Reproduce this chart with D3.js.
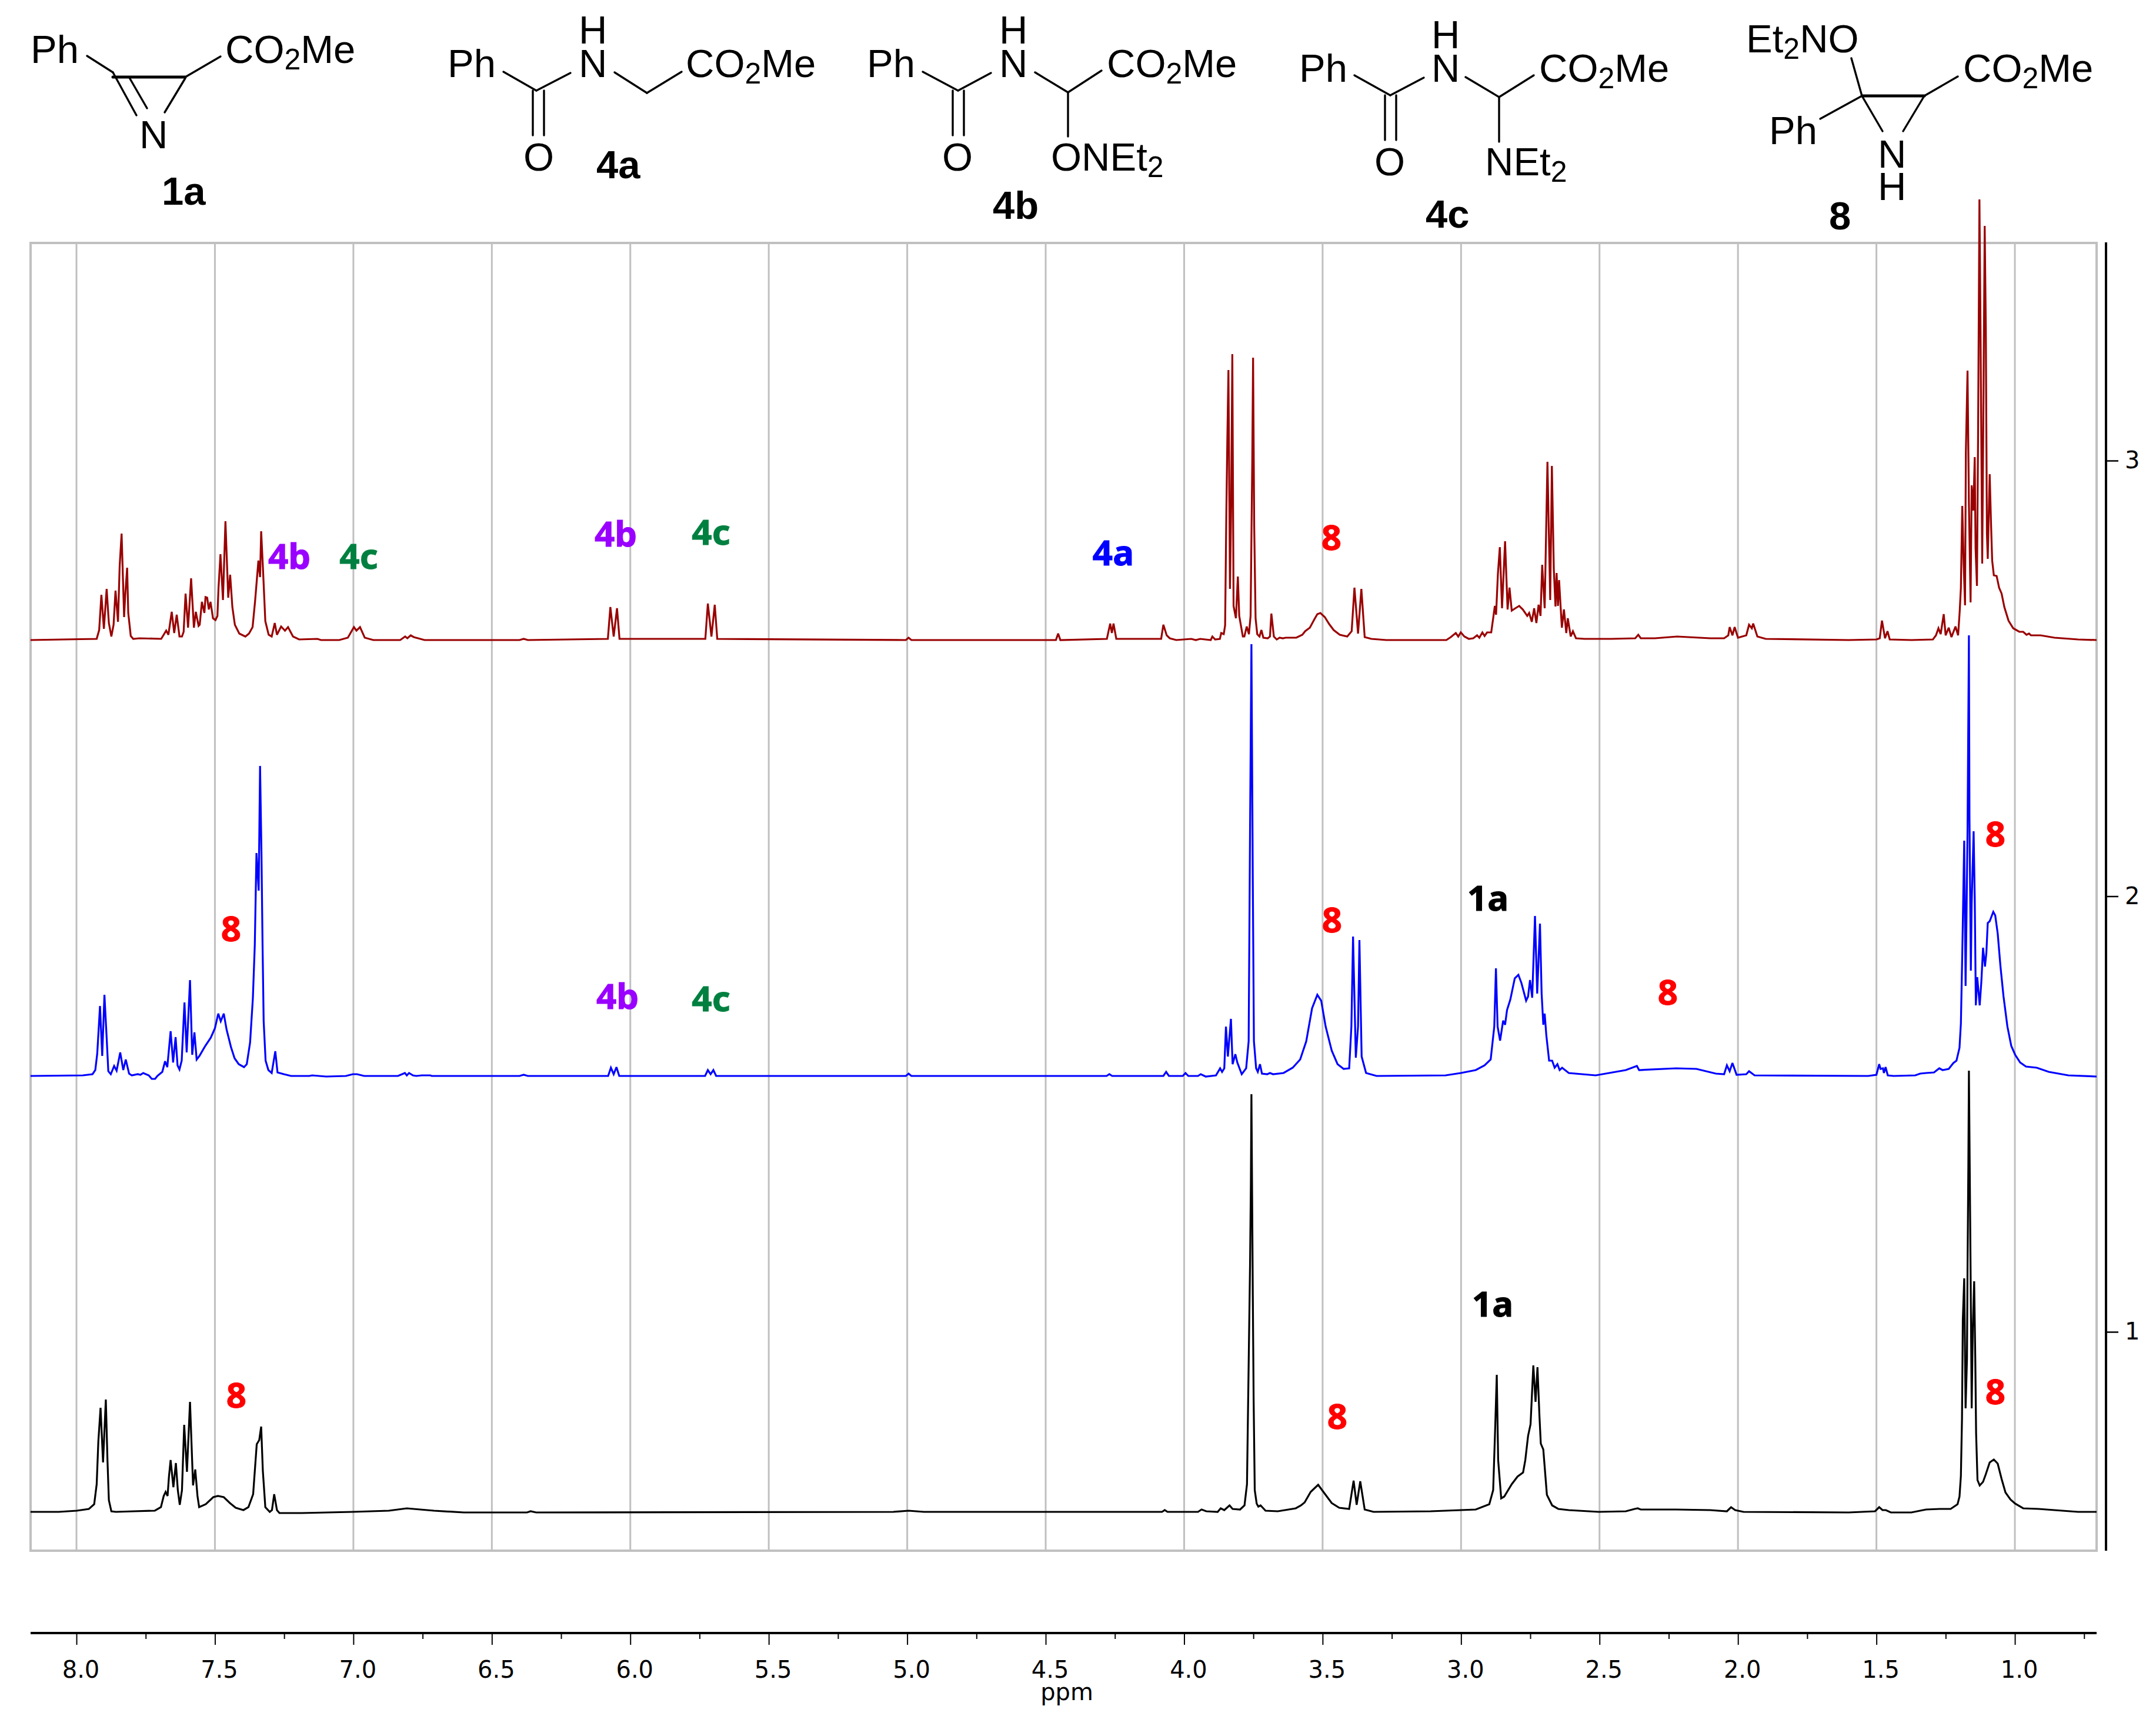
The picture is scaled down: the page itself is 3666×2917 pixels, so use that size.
<!DOCTYPE html>
<html>
<head>
<meta charset="utf-8">
<script src="https://cdn.jsdelivr.net/npm/d3@7/dist/d3.min.js"></script>
<style>html,body{margin:0;padding:0;background:#fff}svg{display:block}</style>
</head>
<body>
<svg id="chart" width="3666" height="2917" viewBox="0 0 3666 2917"></svg>
<script>
// ---------- DATA: chemical shift (ppm) and intensity (a.u.) ----------
const majorTicks = [8,7.5,7,6.5,6,5.5,5,4.5,4,3.5,3,2.5,2,1.5,1];
const minorTicks = [7.75,7.25,6.75,6.25,5.75,5.25,4.75,4.25,3.75,3.25,2.75,2.25,1.75,1.25,0.75];
const stackTicks = [1,2,3];
const stackOffsets = {red:1548, blue:807, black:66};

const redTrace = [[8.166,0],[7.927,2],[7.918,17],[7.910,77],[7.901,19],[7.891,87],[7.883,29],[7.874,6],[7.866,26],[7.859,84],[7.850,31],[7.844,126],[7.837,181],[7.832,102],[7.828,39],[7.824,76],[7.817,123],[7.813,46],[7.804,7],[7.795,2],[7.773,3],[7.694,2],[7.676,16],[7.668,9],[7.656,48],[7.647,12],[7.638,43],[7.628,6],[7.619,6],[7.613,14],[7.606,79],[7.597,21],[7.586,105],[7.576,21],[7.569,48],[7.559,24],[7.555,26],[7.547,65],[7.538,46],[7.534,73],[7.528,72],[7.522,52],[7.516,65],[7.507,37],[7.498,34],[7.491,41],[7.487,89],[7.480,146],[7.471,68],[7.462,202],[7.452,72],[7.445,111],[7.437,56],[7.428,26],[7.412,11],[7.390,6],[7.377,11],[7.364,22],[7.355,66],[7.343,135],[7.337,107],[7.333,185],[7.326,116],[7.318,32],[7.306,9],[7.295,6],[7.284,29],[7.276,9],[7.261,23],[7.247,16],[7.236,22],[7.218,6],[7.196,1],[7.130,2],[7.117,0],[7.051,0],[7.020,4],[6.998,22],[6.989,16],[6.976,22],[6.959,4],[6.928,0],[6.831,0],[6.813,6],[6.805,3],[6.793,8],[6.782,5],[6.743,0],
[6.40,0],[6.385,2],[6.37,0],[6.081,2],[6.072,56],[6.060,6],[6.048,54],[6.039,2],[5.729,2],[5.720,62],[5.707,6],[5.695,60],[5.686,2],[5.005,0],[4.995,4],[4.985,0],[4.463,0],[4.455,11],[4.447,0],[4.279,2],[4.267,28],[4.261,12],[4.255,28],[4.245,2],[4.083,2],[4.075,26],[4.063,8],[4.052,3],[4.0285,0],
[3.974,2],[3.958,0],[3.942,2],[3.904,0],[3.898,6],[3.888,1],[3.871,2],[3.866,12],[3.857,10],[3.852,25],[3.8475,220],[3.844,340],[3.840,459],[3.8345,87],[3.830,236],[3.826,486],[3.8215,58],[3.813,37],[3.806,108],[3.801,41],[3.788,6],[3.7825,6],[3.774,23],[3.766,10],[3.760,41],[3.754,303],[3.751,480],[3.747,195],[3.742,37],[3.736,10],[3.728,6],[3.721,17],[3.714,4],[3.698,3],[3.690,6],[3.685,45],[3.676,6],[3.6655,1],[3.655,4],[3.644,3],[3.633,4],[3.595,4],[3.573,9],[3.563,15],[3.546,21],[3.530,35],[3.519,44],[3.508,46],[3.492,39],[3.476,27],[3.460,17],[3.438,9],[3.411,6],[3.395,15],[3.385,89],[3.372,11],[3.360,87],[3.348,5],[3.324,2],[3.270,0],[3.053,0],[3.037,5],[3.019,12],[3.010,6],[3.001,13],[2.988,6],[2.972,2],[2.956,3],[2.942,8],[2.934,4],[2.923,13],[2.915,7],[2.906,13],[2.891,13],[2.884,37],[2.878,58],[2.8735,43],[2.867,112],[2.860,158],[2.852,54],[2.841,168],[2.832,52],[2.825,89],[2.817,50],[2.804,54],[2.790,58],[2.777,52],[2.761,41],[2.754,46],[2.7445,31],[2.736,54],[2.728,29],[2.720,60],[2.713,41],[2.707,128],[2.698,54],[2.688,303],[2.678,68],[2.672,296],[2.665,120],[2.659,57],[2.655,114],[2.650,58],[2.646,102],[2.636,21],[2.6285,52],[2.620,12],[2.6145,37],[2.604,6],[2.596,15],[2.585,3],[2.555,2],[2.457,2],[2.371,3],[2.360,9],[2.351,3],[2.30,3],[2.22,6],[2.10,3],[2.05,3],[2.035,8],[2.03,22],[2.02,8],[2.012,22],[2.0,4],[1.97,8],[1.96,26],[1.95,20],[1.945,28],[1.93,6],[1.90,2],[1.60,0],[1.50,1],[1.488,3],
[1.480,33],[1.469,3],[1.460,15],[1.452,1],[1.374,0],[1.296,1],[1.285,8],[1.276,20],[1.268,10],[1.257,44],[1.250,8],[1.239,21],[1.229,5],[1.2145,23],[1.205,8],[1.199,51],[1.195,89],[1.190,228],[1.185,130],[1.180,59],[1.177,319],[1.171,458],[1.166,232],[1.160,64],[1.156,263],[1.150,220],[1.145,311],[1.142,156],[1.137,92],[1.133,339],[1.128,749],[1.124,523],[1.118,130],[1.114,375],[1.109,704],[1.105,533],[1.101,181],[1.098,138],[1.091,282],[1.086,196],[1.082,135],[1.076,110],[1.066,109],[1.057,89],[1.048,79],[1.038,56],[1.023,33],[1.006,20],[0.984,14],[0.970,14],[0.958,9],[0.949,11],[0.942,8],[0.907,8],[0.857,4],[0.772,1],[0.705,0]];

const blueTrace = [[8.166,0],[7.977,1],[7.942,3],[7.932,10],[7.925,38],[7.915,119],[7.907,34],[7.899,138],[7.891,65],[7.885,8],[7.876,3],[7.864,17],[7.855,9],[7.842,40],[7.831,10],[7.822,28],[7.810,4],[7.800,1],[7.779,3],[7.769,2],[7.759,5],[7.739,1],[7.728,-5],[7.716,-5],[7.708,0],[7.690,7],[7.680,25],[7.672,15],[7.660,76],[7.651,23],[7.642,66],[7.635,18],[7.628,11],[7.620,26],[7.610,125],[7.602,40],[7.590,163],[7.582,36],[7.574,74],[7.566,28],[7.556,34],[7.535,51],[7.515,65],[7.500,81],[7.488,106],[7.479,93],[7.468,106],[7.458,79],[7.442,49],[7.429,30],[7.414,20],[7.395,15],[7.385,20],[7.373,57],[7.363,132],[7.356,223],[7.350,379],[7.342,315],[7.337,527],[7.332,381],[7.328,223],[7.324,93],[7.317,26],[7.307,10],[7.295,5],[7.282,42],[7.274,6],[7.251,3],[7.225,0],[7.159,0],[7.149,1],[7.098,-1],[7.027,0],[7.002,3],[6.987,3],[6.961,0],[6.839,0],[6.814,5],[6.807,1],[6.799,5],[6.785,1],[6.773,0],[6.753,1],[6.722,1],[6.717,0],
[6.40,0],[6.385,2],[6.37,0],[6.08,0],[6.07,14],[6.06,3],[6.05,15],[6.04,0],[5.73,0],[5.72,10],[5.71,3],[5.70,10],[5.69,0],[5.005,0],[4.995,4],[4.985,0],[4.28,0],[4.27,3],[4.26,0],[4.075,0],[4.065,7],[4.055,0],[4.005,0],[3.995,5],[3.985,0],[3.95,0],[3.94,3],
[3.922,-1],[3.885,1],[3.870,13],[3.863,7],[3.855,13],[3.849,84],[3.842,33],[3.831,97],[3.825,20],[3.815,37],[3.808,23],[3.792,3],[3.776,13],[3.767,59],[3.762,416],[3.757,734],[3.752,329],[3.748,59],[3.740,13],[3.734,7],[3.726,20],[3.719,4],[3.700,3],[3.690,5],[3.679,3],[3.641,5],[3.608,14],[3.581,28],[3.559,59],[3.538,115],[3.519,138],[3.505,128],[3.489,84],[3.467,43],[3.446,20],[3.424,12],[3.404,13],[3.396,84],[3.390,237],[3.380,31],[3.372,84],[3.367,231],[3.359,33],[3.343,5],[3.305,0],[3.056,1],[3.001,5],[2.947,10],[2.915,18],[2.893,28],[2.880,84],[2.874,183],[2.868,84],[2.859,60],[2.848,94],[2.841,87],[2.834,112],[2.822,130],[2.806,166],[2.793,172],[2.782,158],[2.765,128],[2.758,135],[2.751,163],[2.743,133],[2.733,272],[2.725,140],[2.715,259],[2.709,140],[2.703,87],[2.698,106],[2.692,69],[2.682,26],[2.671,26],[2.662,14],[2.652,20],[2.644,10],[2.635,14],[2.611,5],[2.514,1],[2.405,10],[2.365,17],[2.357,10],[2.223,13],[2.15,12],[2.08,4],[2.05,3],[2.04,18],[2.03,8],[2.02,22],[2.005,2],[1.97,3],[1.96,8],[1.94,1],[1.53,0],[1.50,2],[1.49,20],[1.485,12],
[1.4765,13],[1.473,5],[1.467,15],[1.459,1],[1.438,0],[1.360,1],[1.342,4],[1.321,5],[1.292,6],[1.273,13],[1.261,10],[1.239,12],[1.222,22],[1.211,26],[1.200,48],[1.195,89],[1.190,207],[1.183,400],[1.178,153],[1.175,258],[1.171,416],[1.166,749],[1.164,441],[1.159,179],[1.156,293],[1.149,416],[1.145,304],[1.141,120],[1.136,168],[1.127,120],[1.121,161],[1.115,218],[1.108,186],[1.103,209],[1.098,260],[1.091,263],[1.078,279],[1.071,273],[1.062,242],[1.052,186],[1.041,135],[1.027,84],[1.013,51],[0.999,36],[0.981,23],[0.960,16],[0.921,14],[0.878,7],[0.807,1],[0.705,-1]];

const blackTrace = [[8.166,0],[8.064,0],[7.999,2],[7.955,5],[7.936,13],[7.927,47],[7.921,120],[7.913,177],[7.904,84],[7.894,191],[7.888,87],[7.883,20],[7.874,1],[7.858,0],[7.793,1],[7.717,2],[7.695,8],[7.685,27],[7.678,34],[7.671,27],[7.666,60],[7.660,88],[7.650,42],[7.641,83],[7.634,37],[7.627,12],[7.619,37],[7.611,148],[7.601,68],[7.590,187],[7.579,45],[7.571,72],[7.563,27],[7.557,8],[7.533,13],[7.506,25],[7.489,27],[7.468,25],[7.446,15],[7.425,7],[7.397,3],[7.379,8],[7.362,30],[7.349,115],[7.340,122],[7.333,145],[7.327,70],[7.318,8],[7.302,0],[7.294,3],[7.286,30],[7.276,3],[7.267,-2],[7.186,-2],[7.002,0],[6.872,2],[6.807,6],[6.709,2],[6.601,-1],[6.373,-1],
[6.36,1],[6.34,-1],[5.05,0],[4.995,2],[4.94,0],[4.08,0],[4.07,3],[4.06,0],[3.95,0],[3.937,4],[3.92,1],
[3.879,0],[3.868,6],[3.855,3],[3.836,11],[3.825,5],[3.798,4],[3.782,11],[3.773,47],[3.762,419],[3.759,557],[3.757,710],[3.752,368],[3.749,190],[3.745,37],[3.738,14],[3.732,9],[3.724,11],[3.706,2],[3.662,1],[3.597,6],[3.578,11],[3.565,16],[3.543,34],[3.516,46],[3.494,32],[3.467,15],[3.440,7],[3.404,5],[3.388,53],[3.377,12],[3.364,52],[3.348,4],[3.316,0],[3.110,1],[2.947,4],[2.898,13],[2.884,37],[2.877,139],[2.871,233],[2.866,88],[2.855,23],[2.844,26],[2.817,47],[2.796,60],[2.776,67],[2.768,88],[2.758,129],[2.749,149],[2.739,249],[2.731,187],[2.724,246],[2.717,164],[2.712,116],[2.703,106],[2.690,29],[2.671,11],[2.649,5],[2.611,3],[2.503,0],[2.405,1],[2.373,5],[2.362,6],[2.351,4],[2.223,4],[2.10,3],[2.04,1],[2.025,8],[2.01,3],[1.98,0],[1.60,-1],[1.505,1],[1.49,8],[1.478,3],
[1.466,3],[1.448,-1],[1.374,-1],[1.321,4],[1.271,5],[1.232,5],[1.207,13],[1.200,26],[1.195,61],[1.191,158],[1.188,327],[1.183,397],[1.178,176],[1.173,260],[1.171,413],[1.168,592],[1.166,750],[1.163,582],[1.160,413],[1.156,176],[1.152,311],[1.147,392],[1.143,260],[1.140,133],[1.135,54],[1.127,45],[1.115,51],[1.105,64],[1.091,84],[1.076,89],[1.062,82],[1.048,56],[1.034,33],[1.016,21],[0.999,14],[0.970,6],[0.914,5],[0.772,0],[0.705,0]];

// ---------- SCALES ----------
const W = {left:52, right:3565, top:413, bottom:2636, axisY:2776, stackX:3581};
const x = d3.scaleLinear().domain([8.1657,0.7049]).range([W.left,W.right]);
const y = d3.scaleLinear().domain([0,2223]).range([W.bottom,W.top]);
const stackY = d3.scaleLinear().domain([1,3]).range([2264,783]);

const svg = d3.select("#chart");
svg.append("rect").attr("width",3666).attr("height",2917).attr("fill","#fff");

// ---------- FRAME & GRID ----------
const GREY = "#c0c0c0";
const grid = svg.append("g");
grid.selectAll("line.g").data(majorTicks).join("line")
  .attr("x1",d=>x(d)).attr("x2",d=>x(d)).attr("y1",W.top).attr("y2",W.bottom)
  .attr("stroke",GREY).attr("stroke-width",3);
grid.append("rect").attr("x",W.left).attr("y",W.top).attr("width",W.right-W.left).attr("height",W.bottom-W.top)
  .attr("fill","none").attr("stroke",GREY).attr("stroke-width",4);

// ---------- SPECTRA ----------
const line = off => d3.line().x(d=>x(d[0])).y(d=>y(d[1]+off));
[[redTrace,stackOffsets.red,"#990000"],[blueTrace,stackOffsets.blue,"#0000ff"],[blackTrace,stackOffsets.black,"#000000"]]
 .forEach(([t,off,c])=>{
   svg.append("path").datum(t).attr("d",line(off)).attr("fill","none").attr("stroke",c)
      .attr("stroke-width",3.2).attr("stroke-linejoin","miter").attr("stroke-miterlimit",3);
 });

// ---------- AXES ----------
const FONT = "'DejaVu Sans', Verdana, sans-serif";
const bottomMajor = d3.axisBottom(x).tickValues(majorTicks).tickSize(20).tickPadding(28).tickFormat(d3.format(".1f"));
const bottomMinor = d3.axisBottom(x).tickValues(minorTicks).tickSize(10).tickFormat("");
const gMajor = svg.append("g").attr("transform",`translate(0,${W.axisY})`).call(bottomMajor);
const gMinor = svg.append("g").attr("transform",`translate(0,${W.axisY})`).call(bottomMinor);
[gMajor,gMinor].forEach(g=>{
  g.select(".domain").attr("stroke","#000").attr("stroke-width",4).attr("d",`M${W.left},0H${W.right}`);
  g.selectAll(".tick line").attr("stroke","#000").attr("stroke-width",2);
});
gMinor.selectAll(".tick text").remove();
gMajor.selectAll("text").attr("font-family",FONT).attr("font-size",40).attr("fill","#000").attr("dx",7);
svg.append("text").attr("x",1814).attr("y",2890).attr("text-anchor","middle")
   .attr("font-family",FONT).attr("font-size",40).text("ppm");

const right = d3.axisRight(stackY).tickValues(stackTicks).tickSize(21).tickPadding(11).tickFormat(d3.format("d"));
const gR = svg.append("g").attr("transform",`translate(${W.stackX},0)`).call(right);
gR.select(".domain").attr("stroke","#000").attr("stroke-width",4).attr("d",`M0,${W.top-1}V${W.bottom}`);
gR.selectAll(".tick line").attr("stroke","#000").attr("stroke-width",2.5);
gR.selectAll("text").attr("font-family",FONT).attr("font-size",40).attr("fill","#000");

// ---------- PEAK ANNOTATIONS ----------
const VIOLET="#9900ff", GREEN="#008040", RED="#ff0000", BLUE="#0000ff", BLACK="#000000";
const annotations = [
 ["4b",VIOLET,492,967],["4c",GREEN,610,967],["4b",VIOLET,1047,929],["4c",GREEN,1209,926],["4a",BLUE,1893,961],["8",RED,2264,935],
 ["8",RED,393,1600],["4b",VIOLET,1050,1715],["4c",GREEN,1209,1719],["8",RED,2265,1585],["1a",BLACK,2530,1548],["8",RED,2836,1708],["8",RED,3393,1439],
 ["8",RED,402,2393],["8",RED,2274,2429],["1a",BLACK,2538,2238],["8",RED,3393,2387]];
svg.append("g").selectAll("text").data(annotations).join("text")
  .attr("x",d=>d[2]).attr("y",d=>d[3]).attr("fill",d=>d[1]).attr("stroke",d=>d[1]).attr("stroke-width",1).attr("text-anchor","middle")
  .attr("font-family","'Noto Sans', sans-serif").attr("font-weight",700).attr("font-size",60).text(d=>d[0]);

// ---------- STRUCTURE DRAWINGS ----------
const SF = "'Liberation Sans', Arial, sans-serif";
const st = svg.append("g");
function label(parts, xp, yp, bold){
  const t = st.append("text").attr("x",xp).attr("y",yp).attr("font-family",SF).attr("font-size",67)
     .attr("font-weight",bold?700:400).attr("fill","#000");
  let afterSub = false;
  parts.forEach(p=>{
    if (p==="2") { t.append("tspan").attr("font-size",50).attr("dy",11).text("2"); afterSub = true; }
    else { const s = t.append("tspan").text(p); if (afterSub) { s.attr("dy",-11); afterSub = false; } }
  });
}
function bond(a,b,c,d,w){ st.append("line").attr("x1",a).attr("y1",b).attr("x2",c).attr("y2",d).attr("stroke","#000").attr("stroke-width",w||3.4).attr("stroke-linecap","round"); }

// 1a
label(["Ph"],52,107); label(["CO","2","Me"],383,107); label(["N"],237,252); label(["1a"],275,348,true);
bond(148,95,192,123); bond(192,131,315,131,5); bond(315,131,375,96); bond(192,123,232,196); bond(220,132,250,184); bond(315,133,280,191);
// 4a
label(["Ph"],761,131); label(["H"],984,74); label(["N"],984,131); label(["CO","2","Me"],1166,131); label(["O"],890,290); label(["4a"],1014,303,true);
bond(856,122,912,154); bond(912,154,970,124); bond(1045,123,1100,158); bond(1100,158,1159,122); bond(906,154,906,230); bond(925,154,925,230);
// 4b
label(["Ph"],1474,131); label(["H"],1699,74); label(["N"],1699,131); label(["CO","2","Me"],1882,131); label(["O"],1602,290); label(["ONEt","2"],1787,290); label(["4b"],1688,372,true);
bond(1569,122,1629,154); bond(1629,154,1685,124); bond(1760,123,1816,157); bond(1816,157,1873,120); bond(1816,157,1816,232); bond(1620,154,1620,230); bond(1639,154,1639,230);
// 4c
label(["Ph"],2209,139); label(["H"],2434,82); label(["N"],2434,139); label(["CO","2","Me"],2617,139); label(["O"],2337,298); label(["NEt","2"],2525,298); label(["4c"],2424,387,true);
bond(2303,128,2364,162); bond(2364,162,2421,132); bond(2492,131,2549,165); bond(2549,165,2608,128); bond(2549,165,2549,241); bond(2355,162,2355,238); bond(2374,162,2374,238);
// 8
label(["Et","2","NO"],2969,89); label(["CO","2","Me"],3338,139); label(["Ph"],3008,245); label(["N"],3193,285); label(["H"],3193,340); label(["8"],3110,390,true);
bond(3148,99,3166,163); bond(3166,163,3272,163,5); bond(3272,163,3329,130); bond(3166,163,3095,202); bond(3166,163,3201,223); bond(3272,163,3236,223);
</script>
</body>
</html>
